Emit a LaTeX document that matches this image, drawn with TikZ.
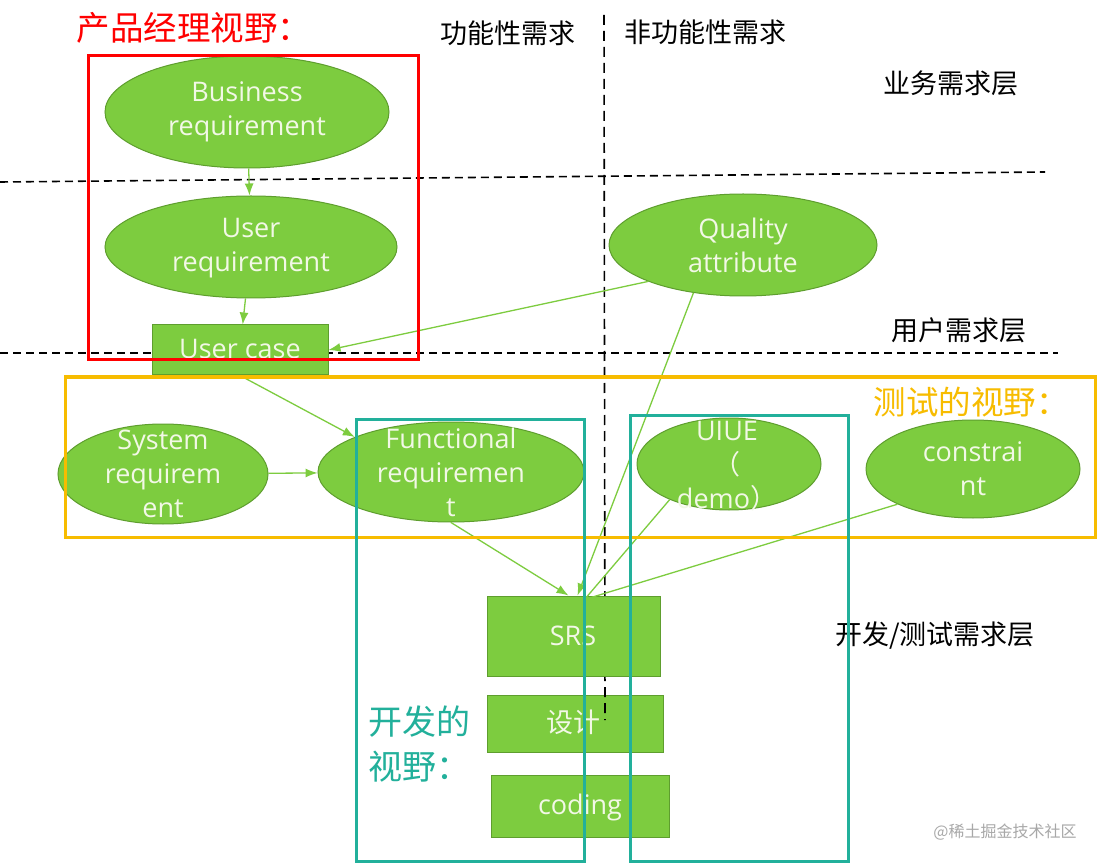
\documentclass[tikz,border=0pt]{standalone}
\usepackage{fontspec}
\setmainfont{Noto Sans CJK SC}
\newfontfamily\latinf{Open Sans}
\newfontfamily\cjkf{Noto Sans CJK SC}
\usetikzlibrary{shapes.geometric,arrows.meta}
\definecolor{boxfill}{HTML}{7DCC3F}
\definecolor{boxline}{HTML}{5E9E2E}
\definecolor{boxtext}{HTML}{F2F8E6}
\definecolor{arrowc}{HTML}{7DCC3F}
\definecolor{pmred}{HTML}{FF0000}
\definecolor{testyellow}{HTML}{F7BC00}
\definecolor{devteal}{HTML}{22B09B}
\definecolor{wmgray}{HTML}{A8A8A8}
\tikzset{
  ellbox/.style={ellipse, draw=boxline, fill=boxfill, line width=1pt, inner sep=0pt},
  rectbox/.style={rectangle, draw=boxline, fill=boxfill, line width=1pt, inner sep=0pt},
  etxt/.style={align=center, inner sep=0pt, text=boxtext, font=\latinf\fontsize{27}{34}\selectfont},
  arr/.style={draw=arrowc, line width=1.3pt, -{Latex[length=12pt,width=9pt]}},
  plainline/.style={draw=arrowc, line width=1.3pt},
  dashline/.style={draw=black, line width=1.6pt, dash pattern=on 8pt off 5pt},
  layerlbl/.style={inner sep=0pt, text=black, font=\fontsize{27}{30}\selectfont},
  viewlbl/.style={inner sep=0pt},
  viewbox/.style={line width=3pt}
}
\begin{document}
\begin{tikzpicture}[x=1pt,y=-1pt]
\useasboundingbox (0,0) rectangle (1108,866);
\fill[white] (0,0) rectangle (1108,866);

% horizontal layer separators
\draw[dashline] (0,182) -- (1045,172);
\draw[dashline] (0,353) -- (1058,353);

% layer labels
\node[layerlbl] (lblf) at (508,33) {功能性需求};
\node[layerlbl] (lblnf) at (705,32) {非功能性需求};
\node[layerlbl] (lblbiz) at (951,83) {业务需求层};
\node[layerlbl] (lbluser) at (959,330) {用户需求层};
\node[layerlbl] (lbldev) at (935,636) {开发/测试需求层};

% shapes
\node[ellbox, minimum width=284pt, minimum height=112pt] (br) at (247,112) {};
\node[etxt] (brt) at (247,112) {Business\\requirement};
\node[ellbox, minimum width=292pt, minimum height=102pt] (ur) at (251,247) {};
\node[etxt] (urt) at (251,248) {User\\requirement};
\node[ellbox, minimum width=268pt, minimum height=102pt] (qa) at (743,245) {};
\node[etxt] (qat) at (743,245) {Quality\\attribute};
\node[rectbox, minimum width=176pt, minimum height=50pt] (uc) at (240,350) {};
\node[etxt] (uct) at (240,349) {User case};

\node[ellbox, minimum width=210pt, minimum height=100pt] (sys) at (163,474) {};
\node[etxt] (syst) at (163,474) {System\\requirem\\ent};
\node[ellbox, minimum width=266pt, minimum height=100pt] (fr) at (451,472) {};
\node[etxt] (frt) at (451,472) {Functional\\requiremen\\t};
\node[ellbox, minimum width=184pt, minimum height=92pt] (ui) at (729,464) {};
\node[etxt] (uit) at (727,466) {UIUE\\{\cjkf （}\\demo{\cjkf ）}};
\node[ellbox, minimum width=214pt, minimum height=98pt] (con) at (973,469) {};
\node[etxt] (cont) at (973,469) {constrai\\nt};

\node[rectbox, minimum width=176pt, minimum height=57pt] (dsn) at (575.5,723.5) {};
\node[etxt, font=\cjkf\fontsize{27}{34}\selectfont] (dsnt) at (573,722) {设计};
\draw[dashline, dash pattern=on 10pt off 6pt] (604,15) -- (605,720);
\node[rectbox, minimum width=173pt, minimum height=80pt] (srs) at (573.5,636) {};
\node[etxt] (srst) at (573,636) {SRS};
\node[rectbox, minimum width=178pt, minimum height=62pt] (cod) at (580,806) {};
\node[etxt] (codt) at (580,807) {coding};

% connectors
\draw[arr] (br) -- (ur);
\draw[arr] (ur) -- (uc);
\draw[arr] (qa.201) -- (uc.east);
\draw[arr] (uc.south) -- (fr.160);
\draw[arr] (sys) -- (fr);
\draw[arr] (fr.south) -- ([xshift=-5pt]srs.north);
\draw[arr] (qa.224) -- ([xshift=4pt]srs.north);
\draw[plainline] (ui.211) -- ([xshift=11pt,yshift=-4pt]srs.north);
\draw[plainline] (con.205) -- ([xshift=11pt,yshift=-4pt]srs.north);

% view boxes
\draw[viewbox, draw=testyellow] (65,377) rectangle (1095,537);
\draw[viewbox, draw=devteal] (356,419) rectangle (584,861);
\draw[viewbox, draw=devteal] (630,415) rectangle (848,861);
\draw[viewbox, draw=pmred] (88,56) rectangle (418,360);

% view titles
\node[viewlbl, text=pmred, font=\fontsize{33.5}{40}\selectfont] (pmt) at (194,28) {产品经理视野：};
\node[viewlbl, text=testyellow, font=\fontsize{32.5}{40}\selectfont] (tst) at (971,402) {测试的视野：};
\node[viewlbl, text=devteal, align=left, anchor=west, font=\fontsize{34}{45}\selectfont] (devt) at (368,744) {开发的\\视野：};

% watermark
\node[inner sep=0pt, text=wmgray, font=\fontsize{16}{18}\selectfont] (wm) at (1005,832) {@稀土掘金技术社区};
\end{tikzpicture}
\end{document}
